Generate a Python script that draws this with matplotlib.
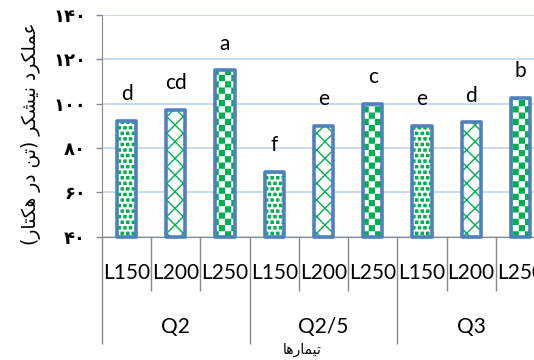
import warnings
import numpy as np
import matplotlib
matplotlib.use('Agg')
import matplotlib.pyplot as plt
import matplotlib.hatch as mhatch
from matplotlib.path import Path

warnings.filterwarnings('ignore')

# data
groups = ['Q2', 'Q2/5', 'Q3']
levels = ['L150', 'L200', 'L250']
yields = [92, 97, 115, 69, 90, 100, 90, 91.5, 102.5]
letters = ['d', 'cd', 'a', 'f', 'e', 'c', 'e', 'd', 'b']
yticks = [40, 60, 80, 100, 120, 140]
ylabel = 'عملکرد نیشکر (تن در هکتار)'
xlabel = 'تیمارها'

# tiny persian shaper (matplotlib 3.10 does not join arabic letters)
FORMS = {  # isolated, final, initial, medial
    'ا': ('\uFE8D', '\uFE8E', None, None),
    'ت': ('\uFE95', '\uFE96', '\uFE97', '\uFE98'),
    'د': ('\uFEA9', '\uFEAA', None, None),
    'ر': ('\uFEAD', '\uFEAE', None, None),
    'ش': ('\uFEB5', '\uFEB6', '\uFEB7', '\uFEB8'),
    'ع': ('\uFEC9', '\uFECA', '\uFECB', '\uFECC'),
    'ل': ('\uFEDD', '\uFEDE', '\uFEDF', '\uFEE0'),
    'م': ('\uFEE1', '\uFEE2', '\uFEE3', '\uFEE4'),
    'ن': ('\uFEE5', '\uFEE6', '\uFEE7', '\uFEE8'),
    'ه': ('\uFEE9', '\uFEEA', '\uFEEB', '\uFEEC'),
    'ک': ('\uFB8E', '\uFB8F', '\uFB90', '\uFB91'),
    'ی': ('\uFBFC', '\uFBFD', '\uFBFE', '\uFBFF'),
}


def shape_rtl(text):
    out = []
    for i, ch in enumerate(text):
        if ch not in FORMS:
            out.append({'(': ')', ')': '('}.get(ch, ch))
            continue
        prev = text[i - 1] if i > 0 else ''
        nxt = text[i + 1] if i + 1 < len(text) else ''
        iso, fin, ini, med = FORMS[ch]
        jp = prev in FORMS and FORMS[prev][2] is not None
        jn = nxt in FORMS and ini is not None
        if jp and jn:
            out.append(med)
        elif jp:
            out.append(fin)
        elif jn:
            out.append(ini)
        else:
            out.append(iso)
    return ''.join(reversed(out))


def fa_digits(n):
    return str(n).translate(str.maketrans('0123456789', '۰۱۲۳۴۵۶۷۸۹'))


# checkerboard hatch ('c'), not built into matplotlib
class CheckerHatch(mhatch.HatchPatternBase):
    def __init__(self, hatch, density):
        self.n = hatch.count('c') * 8
        self.num_vertices = (self.n * self.n // 2) * 5

    def set_vertices_and_codes(self, vertices, codes):
        step = 1.0 / self.n
        shrink = plt.rcParams['hatch.linewidth'] / 72.0
        side = step - shrink
        sq = []
        for i in range(self.n):
            for j in range(self.n):
                if (i + j) % 2 == 0:
                    x0 = i * step + shrink / 2
                    y0 = j * step + shrink / 2
                    sq.append([[x0, y0], [x0 + side, y0], [x0 + side, y0 + side],
                               [x0, y0 + side], [x0, y0]])
        vertices[:] = np.array(sq).reshape(-1, 2)
        codes[:] = np.tile([Path.MOVETO, Path.LINETO, Path.LINETO,
                            Path.LINETO, Path.CLOSEPOLY], len(sq))


# small filled squares ('q'), like the confetti fill
class SquareDots(mhatch.Shapes):
    size = 0.19
    filled = True

    def __init__(self, hatch, density):
        self.num_rows = hatch.count('q') * density
        self.shape_vertices = np.array([[-1, -1], [1, -1], [1, 1], [-1, 1], [-1, -1]], float)
        self.shape_codes = np.array([Path.MOVETO, Path.LINETO, Path.LINETO,
                                     Path.LINETO, Path.CLOSEPOLY], Path.code_type)
        super().__init__(hatch, density)


mhatch._hatch_types.extend([CheckerHatch, SquareDots])

plt.rcParams['font.family'] = ['Lato', 'DejaVu Sans']
plt.rcParams['hatch.linewidth'] = 1.0

green = '#00b050'
blue = '#4f81bd'
gray = '#898989'
hatches = ['qqq', 'xx', 'cc'] * 3

fig = plt.figure(figsize=(5.34, 3.6), dpi=100)
ax = fig.add_axes([102 / 534, 1 - 236.5 / 360, 443 / 534, 221.5 / 360])

x = np.arange(len(yields))
heights = np.array(yields) - 40
for xi, h, ht in zip(x, heights, hatches):
    ax.bar(xi, h, bottom=40, width=0.39, color='white', edgecolor=green,
           linewidth=0, hatch=ht, zorder=3, clip_on=False)
ax.bar(x, heights, bottom=40, width=0.39, facecolor='none', edgecolor=blue,
       linewidth=2.6, joinstyle='round', zorder=4, clip_on=False)

for xi, v, lt in zip(x, yields, letters):
    ax.annotate(lt, (xi, v), xytext=(0, 15), textcoords='offset points',
                ha='center', va='baseline', fontsize=15, color='black')

ax.set_xlim(-0.5, len(yields) - 0.5)
ax.set_ylim(40, 140)
ax.set_yticks(yticks)
ax.set_yticklabels([fa_digits(t) for t in yticks], family='DejaVu Sans',
                   fontweight='bold', fontsize=13)
ax.yaxis.grid(True, color='#c5d5ea', linewidth=1.3, zorder=0)
ax.set_axisbelow(True)
ax.tick_params(axis='y', length=4.5, width=1, color=gray, pad=7)

for s in ['top', 'right']:
    ax.spines[s].set_visible(False)
for s in ['left', 'bottom']:
    ax.spines[s].set_color(gray)

# two-level category axis
ax.set_xticks(np.arange(-0.5, len(yields), 3))
ax.set_xticks(np.arange(-0.5, len(yields), 1), minor=True)
ax.tick_params(axis='x', which='major', length=77, width=1, color=gray,
               labelbottom=False)
ax.tick_params(axis='x', which='minor', length=39, width=1, color=gray,
               labelbottom=False)

xt = ax.get_xaxis_transform()
for i in x:
    ax.annotate(levels[i % 3], (i, 0), xycoords=xt, xytext=(0, -26.5),
                textcoords='offset points', ha='center', va='center',
                fontsize=15, annotation_clip=False)
for g, name in enumerate(groups):
    ax.annotate(name, (g * 3 + 1, 0), xycoords=xt, xytext=(0, -65),
                textcoords='offset points', ha='center', va='center',
                fontsize=15, annotation_clip=False)

fig.text(302 / 534, 1 - 350 / 360, shape_rtl(xlabel), family='DejaVu Sans',
         fontsize=10, ha='center', va='center')
fig.text(31 / 534, 1 - 134 / 360, shape_rtl(ylabel), family='DejaVu Sans',
         fontsize=13.5, rotation=90, ha='center', va='center')

fig.savefig('out.png', dpi=100)
